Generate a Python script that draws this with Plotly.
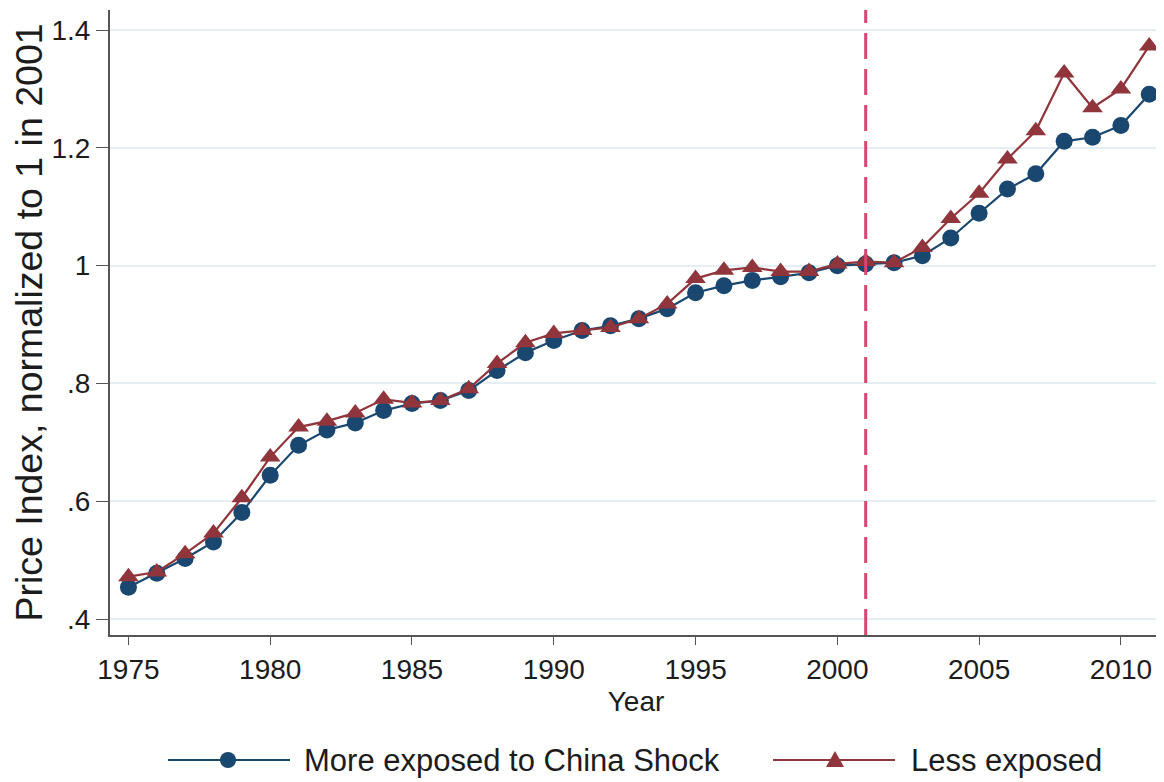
import plotly.graph_objects as go

years = list(range(1975, 2012))
more_exposed = [0.454, 0.478, 0.503, 0.531, 0.581, 0.644, 0.695, 0.721, 0.733, 0.754,
                0.766, 0.771, 0.788, 0.822, 0.852, 0.873, 0.890, 0.898, 0.910, 0.927,
                0.954, 0.966, 0.975, 0.981, 0.988, 1.000, 1.003, 1.005, 1.017, 1.047,
                1.089, 1.130, 1.156, 1.211, 1.218, 1.238, 1.291]
less_exposed = [0.472, 0.480, 0.511, 0.546, 0.606, 0.675, 0.726, 0.736, 0.750, 0.773,
                0.767, 0.771, 0.791, 0.834, 0.869, 0.885, 0.890, 0.895, 0.910, 0.935,
                0.978, 0.992, 0.997, 0.990, 0.990, 1.003, 1.007, 1.005, 1.031, 1.080,
                1.123, 1.181, 1.229, 1.327, 1.268, 1.300, 1.373]
ytick_vals = [0.4, 0.6, 0.8, 1.0, 1.2, 1.4]
ytick_text = [".4", ".6", ".8", "1", "1.2", "1.4"]
xtick_vals = [1975, 1980, 1985, 1990, 1995, 2000, 2005, 2010]
shock_year = 2001
series_names = ["More exposed to China Shock", "Less exposed"]

BLUE = "#1a476f"
RED = "#90353b"
FONT = "Liberation Sans, Arial, sans-serif"
TXT = "#1c1c1c"

# page has an 8px body margin: figure coordinates = page coordinates - 8
OFF = 8
W, H = 1164 - OFF, 782 - OFF
L, PW, T, PH = 110 - OFF, 1052, 10 - OFF, 625

fig = go.Figure()
fig.add_trace(go.Scatter(
    x=years, y=more_exposed, mode="lines+markers", name=series_names[0],
    line=dict(color=BLUE, width=2.2), marker=dict(symbol="circle", size=17, color=BLUE),
    showlegend=False))
fig.add_trace(go.Scatter(
    x=years, y=less_exposed, mode="lines+markers", name=series_names[1],
    line=dict(color=RED, width=2.2), marker=dict(symbol="triangle-up", size=18, color=RED),
    showlegend=False))

fig.add_vline(x=shock_year, line=dict(color="#d9466f", width=3, dash="26px,10px"))

# Custom legend (long line samples like the original), positions in page pixels
def px(x):
    return (x - OFF - L) / PW
def py(y):
    return (T + PH - (y - OFF)) / PH

leg_y = 760
legend_items = [
    dict(x0=168, x1=290, xm=228, xt=302, color=BLUE, sym="circle", text=series_names[0]),
    dict(x0=773, x1=895, xm=835, xt=909, color=RED, sym="triangle", text=series_names[1]),
]
for it in legend_items:
    fig.add_shape(type="line", xref="paper", yref="paper",
                  x0=px(it["x0"]), x1=px(it["x1"]), y0=py(leg_y), y1=py(leg_y),
                  line=dict(color=it["color"], width=2.2))
    if it["sym"] == "circle":
        fig.add_shape(type="circle", xref="paper", yref="paper",
                      xsizemode="pixel", ysizemode="pixel",
                      xanchor=px(it["xm"]), yanchor=py(leg_y),
                      x0=-8, x1=8, y0=-8, y1=8,
                      fillcolor=it["color"], line=dict(color=it["color"], width=0))
    else:
        fig.add_shape(type="path", xref="paper", yref="paper",
                      xsizemode="pixel", ysizemode="pixel",
                      xanchor=px(it["xm"]), yanchor=py(leg_y),
                      path="M -9,-7 L 9,-7 L 0,9 Z",
                      fillcolor=it["color"], line=dict(color=it["color"], width=0))
    fig.add_annotation(xref="paper", yref="paper", x=px(it["xt"]), y=py(leg_y),
                       xanchor="left", yanchor="middle", showarrow=False,
                       text=it["text"], font=dict(size=31, color=TXT, family=FONT))

fig.update_layout(
    width=W, height=H,
    margin=dict(l=L, r=W - L - PW, t=T, b=H - T - PH, autoexpand=False),
    paper_bgcolor="white", plot_bgcolor="white",
    font=dict(family=FONT, size=28, color=TXT),
    showlegend=False,
    xaxis=dict(range=[1974.35, 2011.45], tickvals=xtick_vals, showgrid=False,
               showline=True, linecolor="#555", linewidth=2, ticks="outside",
               ticklen=8, tickcolor="#555", zeroline=False, automargin=False,
               tickfont=dict(size=28),
               title=dict(text="Year", standoff=8, font=dict(size=28))),
    yaxis=dict(range=[0.373, 1.434], tickvals=ytick_vals, ticktext=ytick_text,
               showgrid=True, gridcolor="#e5eef2", gridwidth=1.5,
               showline=True, linecolor="#555", linewidth=2, ticks="outside",
               ticklen=12, tickcolor="#555", zeroline=False, automargin=False,
               tickfont=dict(size=28),
               title=dict(text="Price Index, normalized to 1 in 2001", standoff=2,
                          font=dict(size=37.5))),
)

fig.write_html("out.html")
